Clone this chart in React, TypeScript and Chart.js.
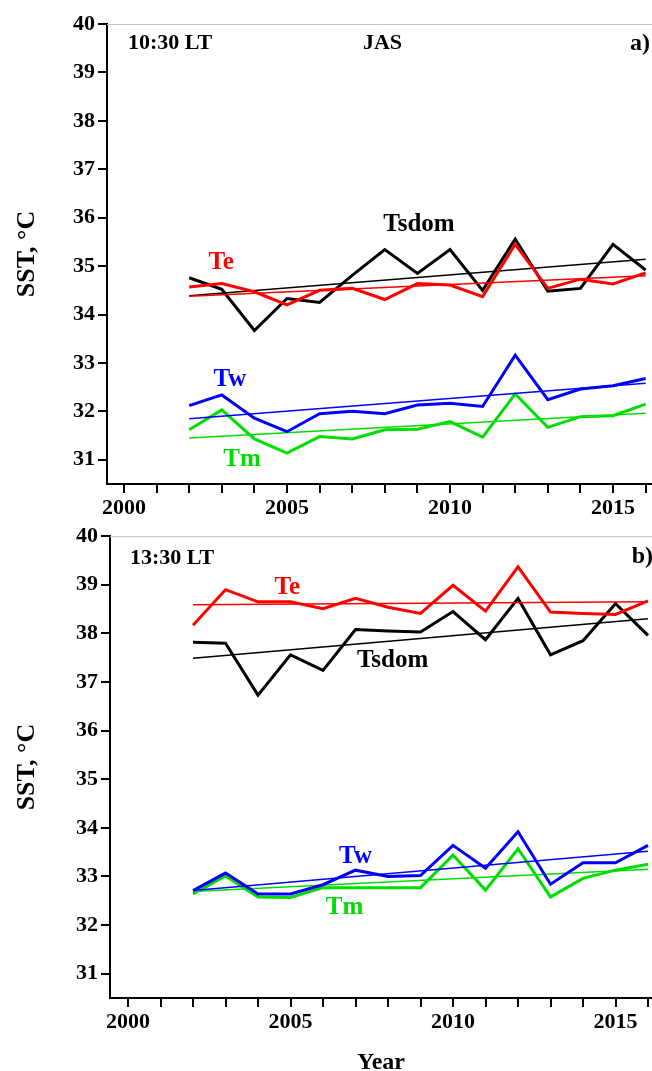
import React, { useEffect, useRef } from "react";
import { Chart, registerables } from "chart.js";

Chart.register(...registerables);

// ---------- data ----------
const years = [2002, 2003, 2004, 2005, 2006, 2007, 2008, 2009, 2010, 2011, 2012, 2013, 2014, 2015, 2016];
const trendYears = [2002, 2016];
const yTickValues = [31, 32, 33, 34, 35, 36, 37, 38, 39, 40];
const xTickValues = [2000, 2001, 2002, 2003, 2004, 2005, 2006, 2007, 2008, 2009, 2010, 2011, 2012, 2013, 2014, 2015, 2016];

// Panel a) 10:30 LT, JAS
const aTsdom = [34.76, 34.52, 33.67, 34.33, 34.25, 34.81, 35.34, 34.85, 35.34, 34.5, 35.56, 34.48, 34.54, 35.45, 34.92];
const aTe = [34.57, 34.64, 34.47, 34.2, 34.5, 34.54, 34.31, 34.64, 34.61, 34.37, 35.45, 34.54, 34.73, 34.63, 34.86];
const aTw = [32.12, 32.34, 31.86, 31.58, 31.95, 32.0, 31.95, 32.13, 32.17, 32.1, 33.16, 32.24, 32.46, 32.53, 32.68];
const aTm = [31.62, 32.03, 31.43, 31.14, 31.48, 31.43, 31.62, 31.63, 31.79, 31.47, 32.36, 31.67, 31.89, 31.91, 32.15];
const aTsdomTrend = [34.39, 35.14];
const aTeTrend = [34.38, 34.8];
const aTwTrend = [31.85, 32.58];
const aTmTrend = [31.45, 31.96];

// Panel b) 13:30 LT
const bTe = [38.17, 38.9, 38.65, 38.65, 38.51, 38.72, 38.54, 38.41, 38.99, 38.46, 39.37, 38.44, 38.41, 38.39, 38.67];
const bTsdom = [37.82, 37.8, 36.73, 37.56, 37.24, 38.08, 38.05, 38.03, 38.45, 37.87, 38.72, 37.56, 37.85, 38.61, 37.96];
const bTw = [32.71, 33.07, 32.64, 32.64, 32.83, 33.13, 33.0, 33.02, 33.64, 33.17, 33.92, 32.84, 33.28, 33.28, 33.64];
const bTm = [32.64, 33.01, 32.58, 32.57, 32.77, 32.77, 32.77, 32.77, 33.44, 32.72, 33.57, 32.58, 32.96, 33.13, 33.25];
const bTeTrend = [38.59, 38.65];
const bTsdomTrend = [37.49, 38.3];
const bTwTrend = [32.71, 33.52];
const bTmTrend = [32.69, 33.15];

// ---------- styles ----------
const FONT = "'Liberation Serif', 'Times New Roman', serif";
const RED = "#ff0000";
const BLACK = "#000000";
const BLUE = "#0000ff";
const GREEN = "#00dd00";

type Note = { text: string; x: number; y: number; color: string; size: number; align: CanvasTextAlign };
type Series = { values: number[]; trend: number[]; color: string };
type Panel = {
  series: Series[];
  notes: Note[];
  xMin: number;
  xMax: number;
  padTop: number;
  yWidth: number;
  xHeight: number;
  xTitle: boolean;
  height: number;
};

const panelA: Panel = {
  series: [
    { values: aTe, trend: aTeTrend, color: RED },
    { values: aTsdom, trend: aTsdomTrend, color: BLACK },
    { values: aTw, trend: aTwTrend, color: BLUE },
    { values: aTm, trend: aTmTrend, color: GREEN },
  ],
  notes: [
    { text: "10:30 LT", x: 2000.12, y: 39.6, color: BLACK, size: 22, align: "left" },
    { text: "JAS", x: 2007.33, y: 39.6, color: BLACK, size: 22, align: "left" },
    { text: "a)", x: 2015.52, y: 39.6, color: BLACK, size: 24, align: "left" },
    { text: "Tsdom", x: 2009.05, y: 35.85, color: BLACK, size: 25, align: "center" },
    { text: "Te", x: 2002.98, y: 35.08, color: RED, size: 25, align: "center" },
    { text: "Tw", x: 2003.25, y: 32.65, color: BLUE, size: 25, align: "center" },
    { text: "Tm", x: 2003.62, y: 31.0, color: GREEN, size: 25, align: "center" },
  ],
  xMin: 1999.479,
  xMax: 2016.196,
  padTop: 24,
  yWidth: 107,
  xHeight: 36,
  xTitle: false,
  height: 520,
};

const panelB: Panel = {
  series: [
    { values: bTe, trend: bTeTrend, color: RED },
    { values: bTsdom, trend: bTsdomTrend, color: BLACK },
    { values: bTw, trend: bTwTrend, color: BLUE },
    { values: bTm, trend: bTmTrend, color: GREEN },
  ],
  notes: [
    { text: "13:30 LT", x: 2000.06, y: 39.55, color: BLACK, size: 22, align: "left" },
    { text: "b)", x: 2015.5, y: 39.57, color: BLACK, size: 24, align: "left" },
    { text: "Te", x: 2004.9, y: 38.94, color: RED, size: 25, align: "center" },
    { text: "Tsdom", x: 2008.14, y: 37.44, color: BLACK, size: 25, align: "center" },
    { text: "Tw", x: 2007.0, y: 33.4, color: BLUE, size: 25, align: "center" },
    { text: "Tm", x: 2006.66, y: 32.36, color: GREEN, size: 25, align: "center" },
  ],
  xMin: 1999.446,
  xMax: 2016.123,
  padTop: 13,
  yWidth: 110,
  xHeight: 82,
  xTitle: true,
  height: 560,
};

function buildConfig(p: Panel): any {
  const datasets: any[] = [];
  p.series.forEach((s) => {
    datasets.push({
      data: years.map((x, i) => ({ x, y: s.values[i] })),
      borderColor: s.color,
      borderWidth: 3,
      pointRadius: 0,
      fill: false,
      tension: 0,
    });
    datasets.push({
      data: trendYears.map((x, i) => ({ x, y: s.trend[i] })),
      borderColor: s.color,
      borderWidth: 1.5,
      pointRadius: 0,
      fill: false,
      tension: 0,
    });
  });

  const notesPlugin = {
    id: "panelNotes",
    afterDatasetsDraw(chart: any) {
      const { ctx, chartArea, scales } = chart;
      ctx.save();
      ctx.strokeStyle = "#c4c4c4";
      ctx.lineWidth = 1;
      ctx.beginPath();
      ctx.moveTo(chartArea.left, chartArea.top + 0.5);
      ctx.lineTo(chartArea.right, chartArea.top + 0.5);
      ctx.stroke();
      for (const n of p.notes) {
        ctx.font = `bold ${n.size}px ${FONT}`;
        ctx.fillStyle = n.color;
        ctx.textAlign = n.align;
        ctx.textBaseline = "middle";
        ctx.fillText(n.text, scales.x.getPixelForValue(n.x), scales.y.getPixelForValue(n.y));
      }
      ctx.restore();
    },
  };

  return {
    type: "line",
    data: { datasets },
    plugins: [notesPlugin],
    options: {
      responsive: false,
      animation: false,
      devicePixelRatio: 1,
      layout: { padding: { top: p.padTop, left: 0, right: 0, bottom: 0 } },
      plugins: { legend: { display: false }, tooltip: { enabled: false } },
      scales: {
        x: {
          type: "linear",
          min: p.xMin,
          max: p.xMax,
          afterBuildTicks: (s: any) => {
            s.ticks = xTickValues.map((v) => ({ value: v }));
          },
          afterFit: (s: any) => {
            s.height = p.xHeight;
          },
          ticks: {
            callback: (v: any) => (Number(v) % 5 === 0 ? String(v) : ""),
            font: { family: FONT, size: 22, weight: "bold" },
            color: BLACK,
            padding: 2,
            maxRotation: 0,
            autoSkip: false,
          },
          grid: { drawOnChartArea: false, tickLength: 9, color: BLACK, lineWidth: 2 },
          border: { display: true, color: BLACK, width: 2 },
          title: {
            display: p.xTitle,
            text: "Year",
            color: BLACK,
            font: { family: FONT, size: 24, weight: "bold" },
            padding: { top: 0, bottom: 3 },
          },
        },
        y: {
          type: "linear",
          min: 30.5,
          max: 40,
          afterBuildTicks: (s: any) => {
            s.ticks = yTickValues.map((v) => ({ value: v }));
          },
          afterFit: (s: any) => {
            s.width = p.yWidth;
          },
          ticks: {
            font: { family: FONT, size: 22, weight: "bold" },
            color: BLACK,
            padding: 3,
          },
          grid: { drawOnChartArea: false, tickLength: 9, color: BLACK, lineWidth: 2 },
          border: { display: true, color: BLACK, width: 2 },
          title: {
            display: true,
            text: "SST, °C",
            color: BLACK,
            font: { family: FONT, size: 26, weight: "bold" },
            padding: { top: 12, bottom: 0 },
          },
        },
      },
    },
  };
}

function PanelChart({ panel }: { panel: Panel }) {
  const ref = useRef<HTMLCanvasElement | null>(null);
  useEffect(() => {
    if (!ref.current) return;
    const chart = new Chart(ref.current, buildConfig(panel));
    return () => chart.destroy();
  }, [panel]);
  return <canvas ref={ref} width={652} height={panel.height} style={{ display: "block" }} />;
}

export default function App() {
  return (
    <div
      style={{
        position: "absolute",
        left: 0,
        top: 0,
        width: 652,
        height: 1071,
        overflow: "hidden",
        background: "#ffffff",
      }}
    >
      <PanelChart panel={panelA} />
      <PanelChart panel={panelB} />
    </div>
  );
}
